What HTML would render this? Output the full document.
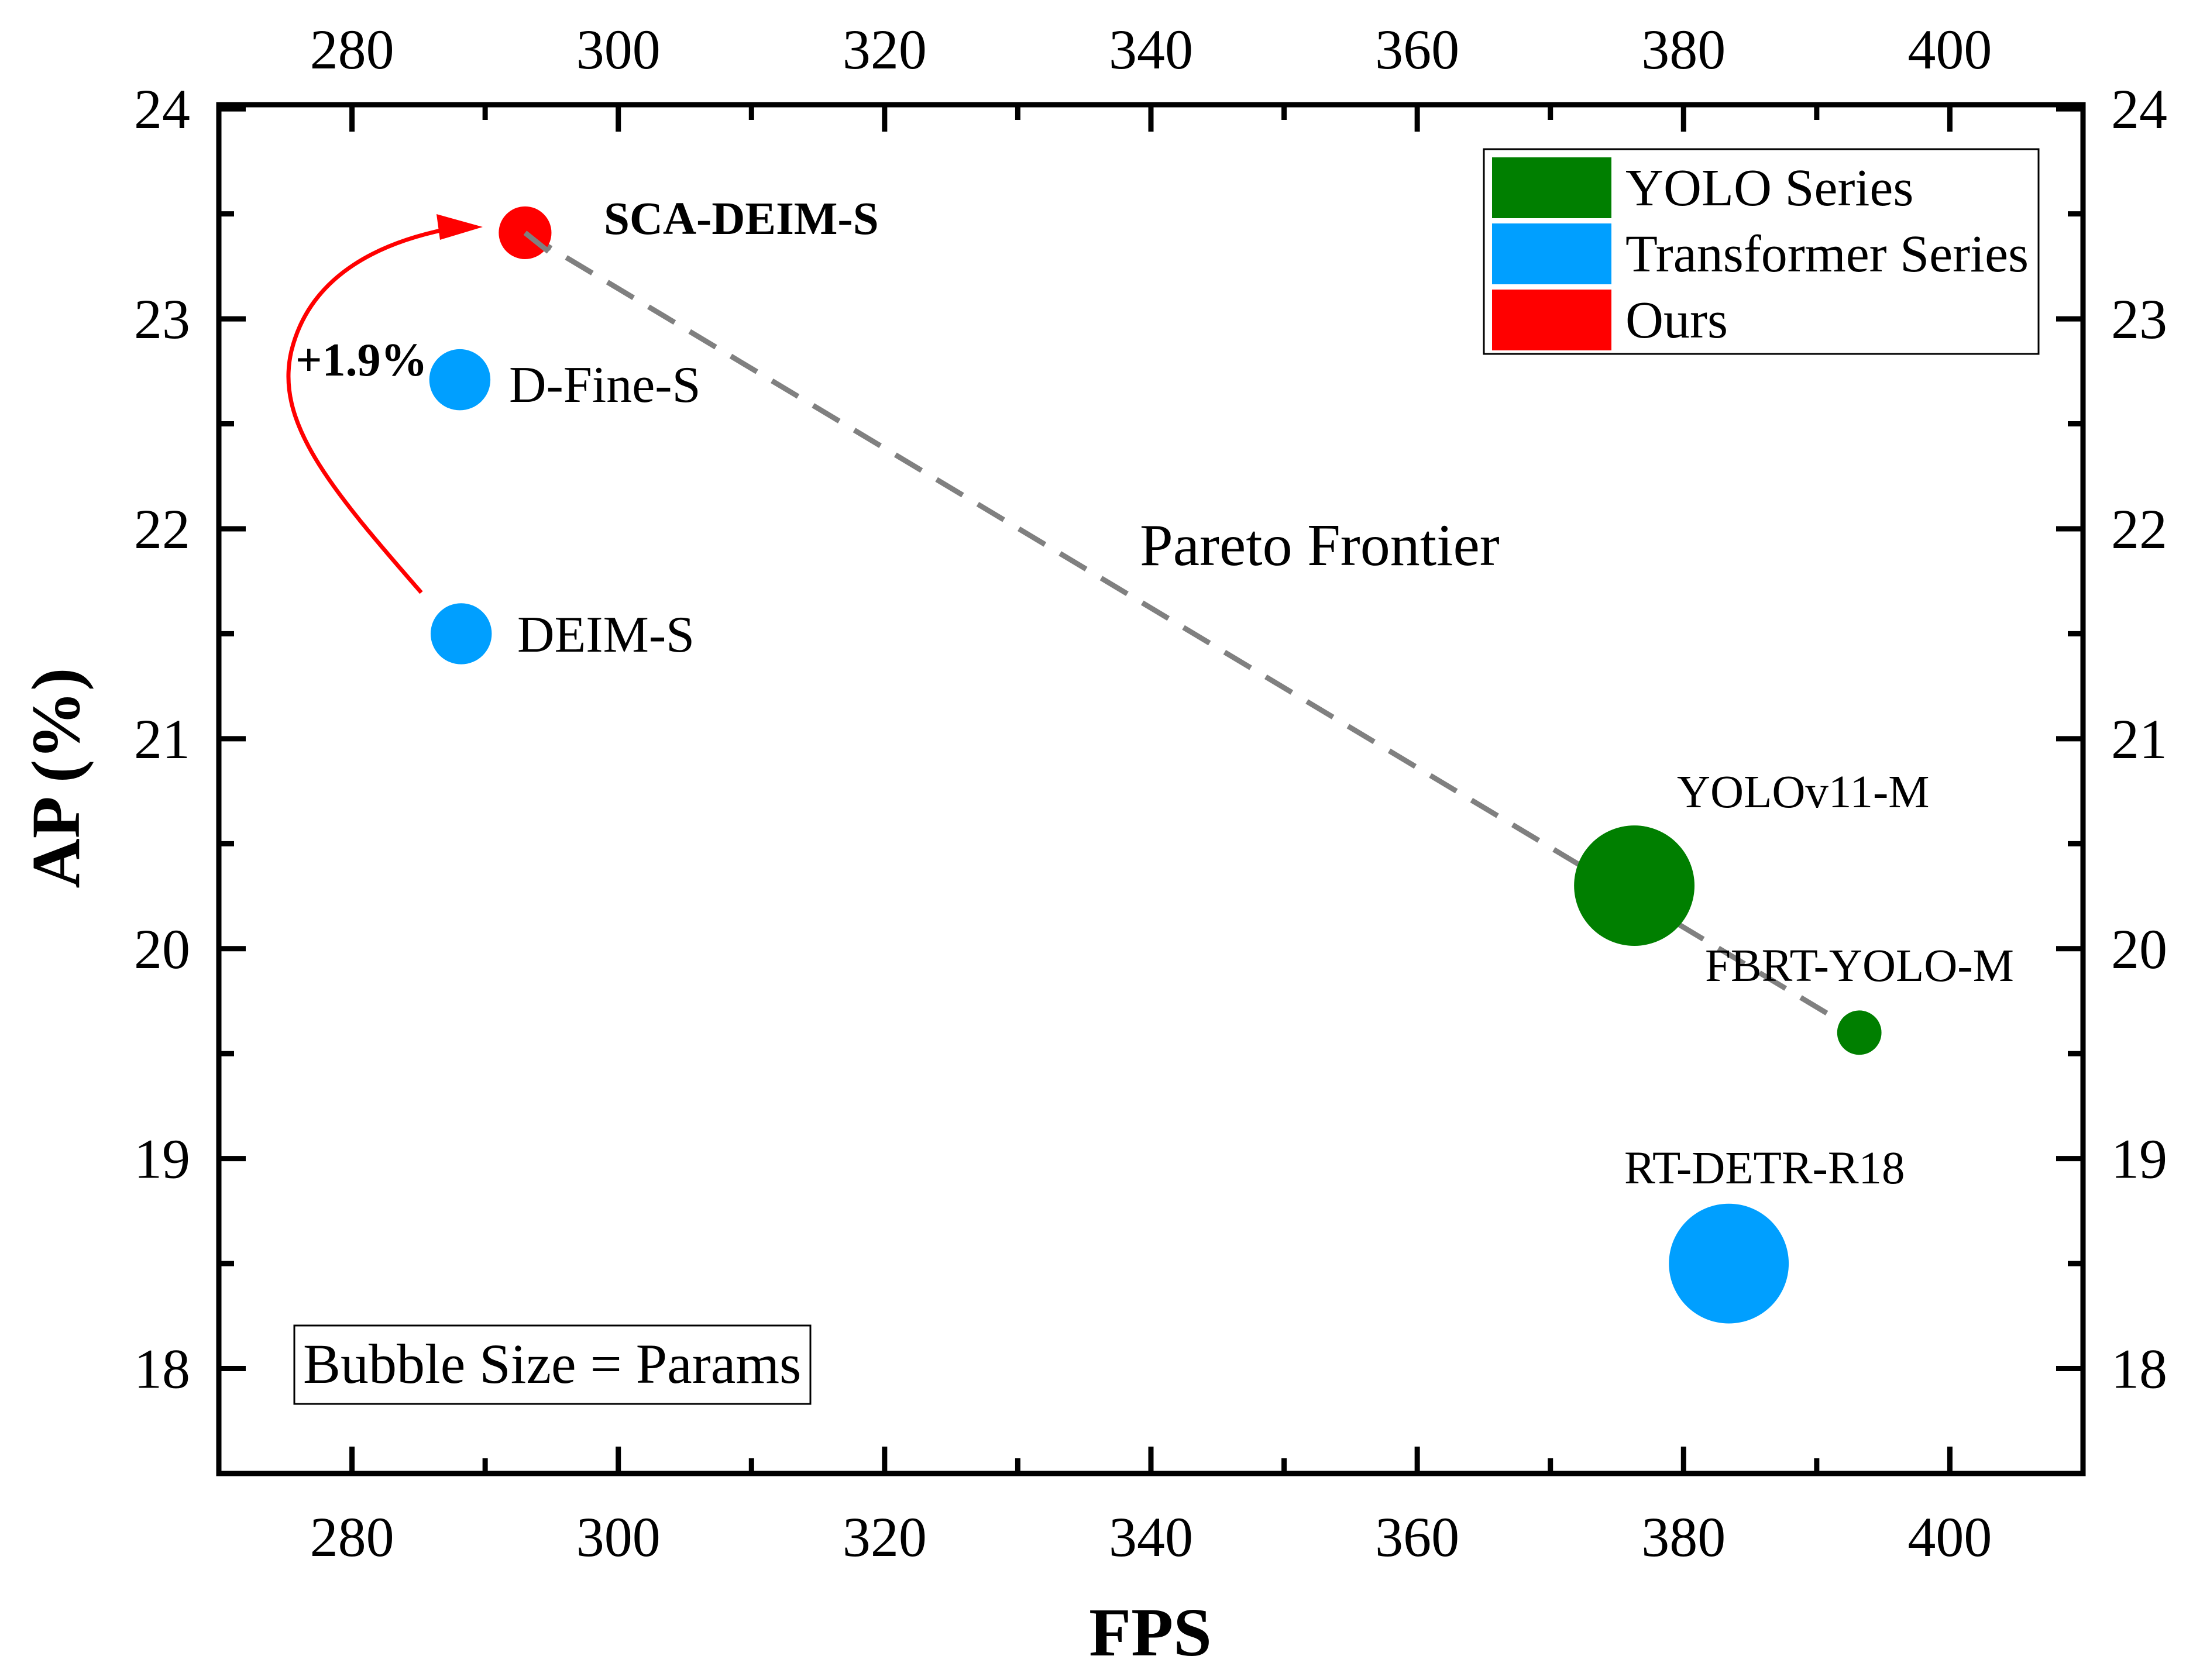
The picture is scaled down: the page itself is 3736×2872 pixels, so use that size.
<!DOCTYPE html>
<html><head><meta charset="utf-8"><style>
html,body{margin:0;padding:0;background:#fff;}
svg{display:block;font-family:"Liberation Serif",serif;}
</style></head><body>
<svg id="chart" width="3736" height="2872" viewBox="0 0 3736 2872" xmlns="http://www.w3.org/2000/svg">
<rect width="3736" height="2872" fill="#fff"/>
<g id="g"></g>
</svg>
<script>
const models = ["SCA-DEIM-S","D-Fine-S","DEIM-S","YOLOv11-M","FBRT-YOLO-M","RT-DETR-R18"];
const fps = [293.0, 288.1, 288.2, 376.3, 393.2, 383.4];
const ap = [23.41, 22.71, 21.5, 20.3, 19.6, 18.5];
const params = [8.8, 10.2, 10.2, 20.1, 7.4, 20.0];
const series = ["ours","transformer","transformer","yolo","yolo","transformer"];
const xTicks = [280,300,320,340,360,380,400];
const yTicks = [18,19,20,21,22,23,24];
const legendLabels = ["YOLO Series","Transformer Series","Ours"];
const gain = "+1.9%";

const colors = {yolo:"#007f00", transformer:"#009fff", ours:"#ff0000"};
const L=374,R=3560,T=179,B=2519;
const X0=270,X1=410,Y0=17.5,Y1=24.02;
function sx(v){return L+(v-X0)/(X1-X0)*(R-L);}
function sy(v){return B-(v-Y0)/(Y1-Y0)*(B-T);}
const NS="http://www.w3.org/2000/svg";
const g=document.getElementById('g');
function el(tag,attrs,parent){const e=document.createElementNS(NS,tag);for(const k in attrs)e.setAttribute(k,attrs[k]);(parent||g).appendChild(e);return e;}
function txt(s,attrs){const e=el('text',attrs);e.textContent=s;return e;}

for(let v=270;v<=410;v+=10){
  const major=v%20===0;const len=major?46:26;const x=sx(v);
  const t1=el('line',{x1:x,y1:B,x2:x,y2:B-len,stroke:'#000','stroke-width':9});
  
  
  const t2=el('line',{x1:x,y1:T,x2:x,y2:T+len,stroke:'#000','stroke-width':9});
  
  
}
for(let v=18;v<=24.001;v+=0.5){
  const major=Math.abs(v-Math.round(v))<1e-6;const len=major?46:26;const y=sy(v);
  const t1=el('line',{x1:L,y1:y,x2:L+len,y2:y,stroke:'#000','stroke-width':9});
  
  
  const t2=el('line',{x1:R,y1:y,x2:R-len,y2:y,stroke:'#000','stroke-width':9});
  
  
}
xTicks.forEach(v=>{
  const a=txt(String(v),{x:sx(v),y:2660,'font-size':96,'text-anchor':'middle'});
  
  
  const b=txt(String(v),{x:sx(v),y:117,'font-size':96,'text-anchor':'middle'});
  
  
});
yTicks.forEach(v=>{
  const a=txt(String(v),{x:325,y:sy(v)+33,'font-size':96,'text-anchor':'end'});
  
  
  const b=txt(String(v),{x:3608,y:sy(v)+33,'font-size':96,'text-anchor':'start'});
  
  
});
const fr=el('rect',{x:L,y:T,width:R-L,height:B-T,fill:'none',stroke:'#000','stroke-width':9});



const xt=txt("FPS",{x:1966,y:2830,'font-size':118,'font-weight':'bold','text-anchor':'middle'});


const yt=txt("AP (%)",{x:0,y:0,'font-size':118,'font-weight':'bold','text-anchor':'middle',transform:'translate(135,1330) rotate(-90)'});



const pl=el('line',{x1:sx(fps[0]),y1:sy(ap[0]),x2:sx(fps[4]),y2:sy(ap[4]),stroke:'#808080','stroke-width':9,'stroke-dasharray':'52 30'});


const pt=txt("Pareto Frontier",{x:1948,y:966,'font-size':102});



models.forEach((m,i)=>{
  const c=el('circle',{cx:sx(fps[i]),cy:sy(ap[i]),r:params[i]*5.12,fill:colors[series[i]]});
  
  
});
el('line',{x1:sx(fps[0]),y1:sy(ap[0]),x2:sx(fps[0])+40,y2:sy(ap[0])+32,stroke:'#808080','stroke-width':9});

const labelPos=[[1032,400,79,'bold'],[870,687,88,'normal'],[884,1114,88,'normal'],[2866,1380,79,'normal'],[2914,1677,79,'normal'],[2776,2023,79,'normal']];
models.forEach((m,i)=>{
  const p=labelPos[i];
  const t=txt(m,{x:p[0],y:p[1],'font-size':p[2],'font-weight':p[3]});
  
  
});

const ar=el('path',{d:'M720,1013 C560,830 470,720 498,600 C530,470 650,410 790,387',fill:'none',stroke:'#ff0000','stroke-width':7});


const ah=el('polygon',{points:'825,388 746,366 752,410',fill:'#ff0000'});


const gt=txt(gain,{x:505,y:642,'font-size':80,'font-weight':'bold'});



const lb=el('rect',{x:2536,y:255,width:948,height:350,fill:'#fff',stroke:'#000','stroke-width':3});


const lc=[colors.yolo,colors.transformer,colors.ours];
legendLabels.forEach((s,i)=>{
  const y=269+i*113;
  const r=el('rect',{x:2550,y:y,width:204,height:104,fill:lc[i]});
  
  
  const t=txt(s,{x:2778,y:y+82,'font-size':90});
  
  
});

const nb=el('rect',{x:503,y:2266,width:882,height:134,fill:'#fff',stroke:'#000','stroke-width':3});


const nt=txt("Bubble Size = Params",{x:518,y:2364,'font-size':96});


</script>
</body></html>
